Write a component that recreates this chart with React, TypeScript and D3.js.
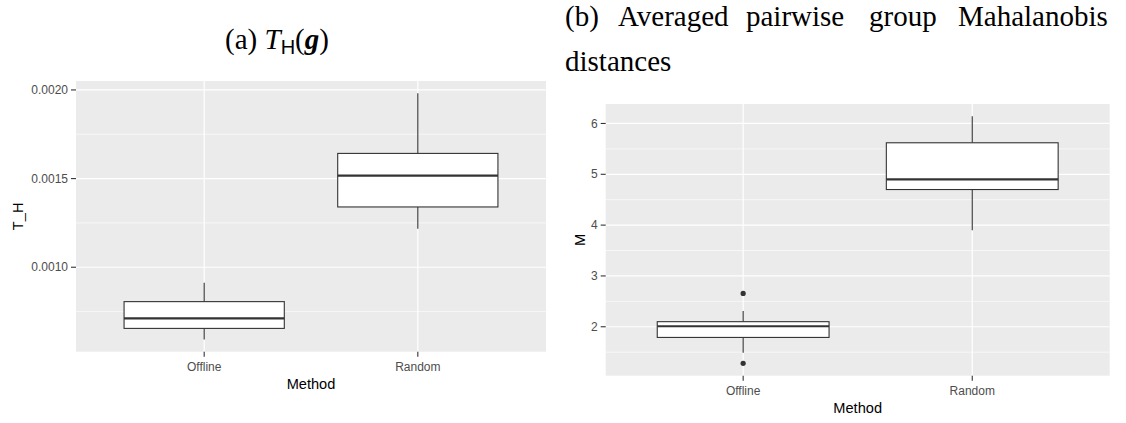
import React from "react";
import * as d3 from "d3";

// ---------- data ----------
const categories = ["Offline", "Random"];

// panel (a): T_H
const thLower = [0.000593, 0.001217];
const thQ1 = [0.000655, 0.00134];
const thMedian = [0.000711, 0.001517];
const thQ3 = [0.000806, 0.001642];
const thUpper = [0.000912, 0.001981];
const thOutliers: number[][] = [[], []];
const thTicks = [0.001, 0.0015, 0.002];
const thMinor = [0.00075, 0.00125, 0.00175];

// panel (b): M
const mLower = [1.49, 3.9];
const mQ1 = [1.79, 4.7];
const mMedian = [2.01, 4.9];
const mQ3 = [2.1, 5.62];
const mUpper = [2.31, 6.14];
const mOutliers: number[][] = [[2.655, 1.28], []];
const mTicks = [2, 3, 4, 5, 6];
const mMinor = [1.5, 2.5, 3.5, 4.5, 5.5];

const titleBWords = ["(b)", "Averaged", "pairwise", "group", "Mahalanobis"];
const titleBLine2 = "distances";

const SANS = "'Liberation Sans', Arial, sans-serif";
const SERIF = "'Liberation Serif', 'DejaVu Serif', serif";

type PanelProps = {
  left: number;
  right: number;
  top: number;
  bottom: number;
  lower: number[];
  q1: number[];
  median: number[];
  q3: number[];
  upper: number[];
  outliers: number[][];
  ticks: number[];
  minor: number[];
  fmt: (v: number) => string;
  yLabel: string;
  yLabelX: number;
  xLabelY: number;
};

function Panel(p: PanelProps) {
  const all = [...p.lower, ...p.upper, ...p.outliers.flat()];
  const lo = d3.min(all) as number;
  const hi = d3.max(all) as number;
  const pad = (hi - lo) * 0.05;
  const y = d3.scaleLinear().domain([lo - pad, hi + pad]).range([p.bottom, p.top]);
  const x = d3.scalePoint<string>().domain(categories).range([p.left, p.right]).padding(0.6);
  const bw = x.step() * 0.75;
  const midX = (p.left + p.right) / 2;
  const midY = (p.top + p.bottom) / 2;
  const grey = "#4D4D4D";
  return (
    <g>
      <rect x={p.left} y={p.top} width={p.right - p.left} height={p.bottom - p.top} fill="#EBEBEB" />
      {p.minor.filter((v) => y(v) > p.top && y(v) < p.bottom).map((v) => (
        <line key={"mn" + v} x1={p.left} x2={p.right} y1={y(v)} y2={y(v)} stroke="#fff" strokeWidth={0.6} />
      ))}
      {p.ticks.map((v) => (
        <line key={"mj" + v} x1={p.left} x2={p.right} y1={y(v)} y2={y(v)} stroke="#fff" strokeWidth={1.2} />
      ))}
      {categories.map((c) => (
        <line key={"vx" + c} x1={x(c)} x2={x(c)} y1={p.top} y2={p.bottom} stroke="#fff" strokeWidth={1.2} />
      ))}
      {categories.map((c, i) => {
        const cx = x(c) as number;
        return (
          <g key={"box" + c}>
            <line x1={cx} x2={cx} y1={y(p.upper[i])} y2={y(p.q3[i])} stroke="#333" strokeWidth={1.1} />
            <line x1={cx} x2={cx} y1={y(p.q1[i])} y2={y(p.lower[i])} stroke="#333" strokeWidth={1.1} />
            <rect
              x={cx - bw / 2}
              y={y(p.q3[i])}
              width={bw}
              height={y(p.q1[i]) - y(p.q3[i])}
              fill="#fff"
              stroke="#333"
              strokeWidth={1.1}
            />
            <line x1={cx - bw / 2} x2={cx + bw / 2} y1={y(p.median[i])} y2={y(p.median[i])} stroke="#333" strokeWidth={2.2} />
            {p.outliers[i].map((o, k) => (
              <circle key={k} cx={cx} cy={y(o)} r={2.6} fill="#333" />
            ))}
          </g>
        );
      })}
      {p.ticks.map((v) => (
        <g key={"yt" + v}>
          <line x1={p.left - 5} x2={p.left} y1={y(v)} y2={y(v)} stroke="#333" strokeWidth={1.1} />
          <text x={p.left - 8} y={y(v)} dy="0.35em" textAnchor="end" fontFamily={SANS} fontSize={12} fill={grey}>
            {p.fmt(v)}
          </text>
        </g>
      ))}
      {categories.map((c) => (
        <g key={"xt" + c}>
          <line x1={x(c)} x2={x(c)} y1={p.bottom} y2={p.bottom + 5} stroke="#333" strokeWidth={1.1} />
          <text x={x(c)} y={p.bottom + 15} dy="0.35em" textAnchor="middle" fontFamily={SANS} fontSize={12} fill={grey}>
            {c}
          </text>
        </g>
      ))}
      <text x={midX} y={p.xLabelY} dy="0.35em" textAnchor="middle" fontFamily={SANS} fontSize={14.6} fill="#000">
        Method
      </text>
      <text
        transform={`translate(${p.yLabelX},${midY}) rotate(-90)`}
        dy="0.35em"
        textAnchor="middle"
        fontFamily={SANS}
        fontSize={14.6}
        fill="#000"
      >
        {p.yLabel}
      </text>
    </g>
  );
}

export default function App() {
  const wordX = [565, 618, 746, 869, 958];
  return (
    <svg width={1126} height={423} style={{ position: "absolute", left: 0, top: 0, background: "#fff" }}>
      <rect width={1126} height={423} fill="#fff" />
      {/* title (a) */}
      <text x={277} y={49} textAnchor="middle" fontFamily={SERIF} fontSize={29} fill="#000">
        <tspan>(a) </tspan>
        <tspan fontStyle="italic">T</tspan>
        <tspan fontFamily={SANS} fontSize={20} dy={5}>H</tspan>
        <tspan dy={-5}>(</tspan>
        <tspan fontStyle="italic" fontWeight="bold">g</tspan>
        <tspan>)</tspan>
      </text>
      {/* title (b) */}
      {titleBWords.map((w, i) => (
        <text key={w} x={wordX[i]} y={26} fontFamily={SERIF} fontSize={29} fill="#000">
          {w}
        </text>
      ))}
      <text x={565} y={71} fontFamily={SERIF} fontSize={29} fill="#000">
        {titleBLine2}
      </text>
      <Panel
        left={76}
        right={546}
        top={81}
        bottom={351.7}
        lower={thLower}
        q1={thQ1}
        median={thMedian}
        q3={thQ3}
        upper={thUpper}
        outliers={thOutliers}
        ticks={thTicks}
        minor={thMinor}
        fmt={d3.format(".4f")}
        yLabel="T_H"
        yLabelX={18}
        xLabelY={384}
      />
      <Panel
        left={605.7}
        right={1109.7}
        top={104}
        bottom={375.7}
        lower={mLower}
        q1={mQ1}
        median={mMedian}
        q3={mQ3}
        upper={mUpper}
        outliers={mOutliers}
        ticks={mTicks}
        minor={mMinor}
        fmt={d3.format("d")}
        yLabel="M"
        yLabelX={580}
        xLabelY={408}
      />
    </svg>
  );
}
